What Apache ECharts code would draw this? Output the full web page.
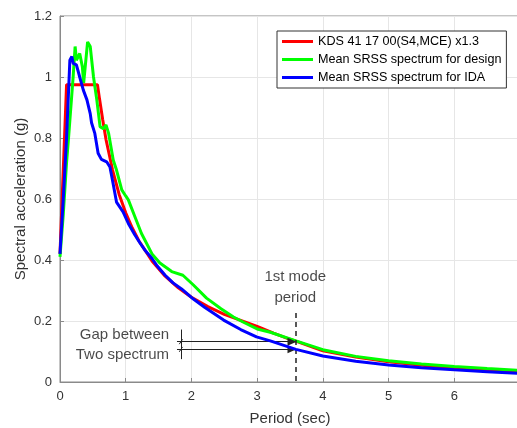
<!DOCTYPE html>
<html>
<head>
<meta charset="utf-8">
<script src="https://cdn.jsdelivr.net/npm/echarts@6/dist/echarts.min.js"></script>
<style>
  html, body { margin: 0; padding: 0; background: #fff; overflow: hidden; }
  #chart { width: 517px; height: 428px; }
</style>
</head>
<body>
<div id="chart"></div>
<script>
// KDS 41 17 00 (S4, MCE) x1.3
const redT = [0, 0.1, 0.57, 0.6, 0.65, 0.7, 0.8, 0.9, 1.0, 1.1, 1.2, 1.4, 1.6, 1.8, 2.0, 2.25, 2.5, 2.75, 3.0, 3.25, 3.5, 3.6, 4.0, 4.5, 5.0, 5.5, 6.0, 6.5, 7.0];
const redSa = [0.42, 0.975, 0.975, 0.93, 0.86, 0.795, 0.695, 0.615, 0.555, 0.505, 0.463, 0.397, 0.347, 0.309, 0.278, 0.247, 0.222, 0.202, 0.182, 0.16, 0.14, 0.133, 0.102, 0.082, 0.066, 0.055, 0.047, 0.04, 0.034];

// Mean SRSS spectrum for design
const greenT = [0, 0.05, 0.1, 0.13, 0.16, 0.2, 0.23, 0.25, 0.3, 0.34, 0.36, 0.42, 0.46, 0.51, 0.56, 0.61, 0.66, 0.7, 0.74, 0.81, 0.86, 0.94, 1.0, 1.04, 1.14, 1.24, 1.4, 1.52, 1.7, 1.87, 2.03, 2.23, 2.45, 2.64, 2.8, 3.0, 3.2, 3.59, 4.0, 4.5, 5.0, 5.5, 6.0, 6.5, 7.0];
const greenSa = [0.41, 0.55, 0.72, 0.8, 0.8, 1.0, 1.1, 1.055, 1.077, 1.034, 0.98, 1.115, 1.1, 1.0, 0.925, 0.837, 0.83, 0.843, 0.815, 0.728, 0.695, 0.63, 0.61, 0.597, 0.542, 0.487, 0.42, 0.39, 0.362, 0.35, 0.318, 0.275, 0.24, 0.213, 0.195, 0.174, 0.163, 0.135, 0.106, 0.084, 0.07, 0.059, 0.051, 0.044, 0.038];

// Mean SRSS spectrum for IDA
const blueT = [0, 0.05, 0.1, 0.15, 0.18, 0.2, 0.25, 0.3, 0.355, 0.41, 0.46, 0.48, 0.53, 0.58, 0.63, 0.71, 0.76, 0.8, 0.86, 0.96, 1.04, 1.14, 1.22, 1.29, 1.4, 1.47, 1.6, 1.72, 1.85, 2.03, 2.2, 2.49, 2.75, 2.99, 3.2, 3.59, 4.0, 4.5, 5.0, 5.5, 6.0, 6.5, 7.0];
const blueSa = [0.42, 0.6, 0.8, 1.055, 1.067, 1.045, 1.04, 1.0, 0.957, 0.925, 0.88, 0.85, 0.815, 0.75, 0.73, 0.722, 0.705, 0.66, 0.59, 0.558, 0.52, 0.482, 0.455, 0.433, 0.405, 0.383, 0.35, 0.325, 0.305, 0.272, 0.245, 0.203, 0.172, 0.148, 0.135, 0.107, 0.085, 0.068, 0.056, 0.047, 0.04, 0.034, 0.028];

const seriesNames = ['KDS 41 17 00(S4,MCE) x1.3', 'Mean SRSS spectrum for design', 'Mean SRSS spectrum for IDA'];
const seriesColors = ['#ff0000', '#00ff00', '#0000ff'];

// annotation values (period, g)
const firstModePeriod = 3.59;
const gapUpper = 0.132;
const gapLower = 0.107;
const gapStartT = 1.78;
const gapMarkT = 1.84;

const pairs = (t, v) => t.map((x, i) => [x, v[i]]);

const chart = echarts.init(document.getElementById('chart'));

const textFont = 'Liberation Sans, Arial, sans-serif';

const lineSeries = [pairs(redT, redSa), pairs(greenT, greenSa), pairs(blueT, blueSa)].map((d, i) => ({
  name: seriesNames[i],
  type: 'line',
  data: d,
  showSymbol: false,
  symbol: 'none',
  color: seriesColors[i],
  lineStyle: { width: 3, color: seriesColors[i] },
  z: 3 + i,
}));

const annotLine = { color: '#222', width: 1, type: 'solid' };

lineSeries[2].markLine = {
  silent: true,
  animation: false,
  label: { show: false },
  symbol: 'none',
  data: [
    [
      { coord: [firstModePeriod, 0.226], symbol: 'none', lineStyle: { color: '#222', width: 1.5, type: [5, 4] } },
      { coord: [firstModePeriod, 0], symbol: 'none' },
    ],
    [
      { coord: [gapStartT, gapUpper], symbol: 'none', lineStyle: annotLine },
      { coord: [firstModePeriod - 0.06, gapUpper], symbol: 'triangle', symbolSize: [8, 9], symbolRotate: -90 },
    ],
    [
      { coord: [gapStartT, gapLower], symbol: 'none', lineStyle: annotLine },
      { coord: [firstModePeriod - 0.06, gapLower], symbol: 'triangle', symbolSize: [8, 9], symbolRotate: -90 },
    ],
    [
      { coord: [gapMarkT, 0.172], symbol: 'none', lineStyle: annotLine },
      { coord: [gapMarkT, 0.075], symbol: 'none' },
    ],
    [
      { coord: [gapMarkT - 0.025, gapUpper - 0.008], symbol: 'none', lineStyle: annotLine },
      { coord: [gapMarkT + 0.025, gapUpper + 0.008], symbol: 'none' },
    ],
    [
      { coord: [gapMarkT - 0.025, gapLower - 0.008], symbol: 'none', lineStyle: annotLine },
      { coord: [gapMarkT + 0.025, gapLower + 0.008], symbol: 'none' },
    ],
  ],
};

const textSeries = {
  name: 'annotations',
  type: 'scatter',
  silent: true,
  symbolSize: 0,
  z: 10,
  label: {
    show: true,
    color: '#1a1a1a',
    fontSize: 15,
    fontFamily: textFont,
    lineHeight: 21,
  },
  data: [
    { value: [1.66, 0.154], label: { formatter: 'Gap between', position: 'left', distance: 0 } },
    { value: [1.66, 0.089], label: { formatter: 'Two spectrum', position: 'left', distance: 0 } },
    { value: [3.58, 0.31], label: { formatter: '1st mode\nperiod', position: 'inside', align: 'center' } },
  ],
};

const option = {
  animation: false,
  backgroundColor: '#fff',
  textStyle: { fontFamily: textFont },
  grid: {
    left: 60,
    top: 16,
    right: -3,
    bottom: 46,
    outerBoundsMode: 'none',
    show: true,
    borderColor: '#8a8a8a',
    borderWidth: 1,
  },
  legend: {
    data: seriesNames,
    orient: 'vertical',
    left: 277,
    top: 31,
    icon: 'rect',
    itemWidth: 31,
    itemHeight: 3,
    itemGap: 3,
    padding: [3, 5, 3, 5],
    borderColor: '#333',
    borderWidth: 1,
    backgroundColor: '#fff',
    textStyle: { fontSize: 12.6, color: '#000', lineHeight: 15, fontFamily: textFont },
  },
  xAxis: {
    type: 'value',
    min: 0,
    max: 7,
    interval: 1,
    name: 'Period (sec)',
    nameLocation: 'middle',
    nameGap: 29,
    nameTextStyle: { fontSize: 15, color: '#333' },
    axisLine: { show: true, lineStyle: { color: '#8a8a8a', width: 1 } },
    axisTick: { show: true, inside: true, length: 4, lineStyle: { color: '#8a8a8a' } },
    axisLabel: { fontSize: 13, color: '#333', margin: 8 },
    splitLine: { show: true, lineStyle: { color: '#e6e6e6', width: 1 } },
  },
  yAxis: {
    type: 'value',
    min: 0,
    max: 1.2,
    interval: 0.2,
    name: 'Spectral acceleration (g)',
    nameLocation: 'middle',
    nameGap: 32,
    nameMoveOverlap: false,
    nameTextStyle: { fontSize: 15, color: '#333' },
    axisLine: { show: true, lineStyle: { color: '#8a8a8a', width: 1 } },
    axisTick: { show: true, inside: true, length: 4, lineStyle: { color: '#8a8a8a' } },
    axisLabel: { fontSize: 13, color: '#333', margin: 8 },
    splitLine: { show: true, lineStyle: { color: '#e6e6e6', width: 1 } },
  },
  series: [...lineSeries, textSeries],
};

chart.setOption(option);
</script>
</body>
</html>
